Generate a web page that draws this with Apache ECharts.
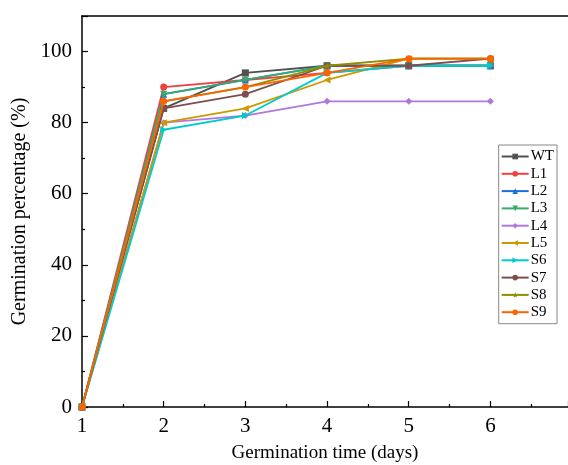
<!DOCTYPE html>
<html><head><meta charset="utf-8">
<script src="https://cdn.jsdelivr.net/npm/echarts@6/dist/echarts.min.js"></script>
<style>html,body{margin:0;padding:0;background:#fff}#c{width:568px;height:465px}</style>
</head><body><div id="c"></div>
<script>
const days = [1, 2, 3, 4, 5, 6];
const names = ['WT','L1','L2','L3','L4','L5','S6','S7','S8','S9'];
const WT = [0, 84, 94, 96, 96, 96];
const L1 = [0, 90, 92, 94, 96, 96];
const L2 = [0, 88, 92, 96, 96, 96];
const L3 = [0, 88, 92, 96, 96, 96];
const L4 = [0, 80, 82, 86, 86, 86];
const L5 = [0, 80, 84, 92, 98, 98];
const S6 = [0, 78, 82, 94, 96, 96];
const S7 = [0, 84, 88, 96, 96, 98];
const S8 = [0, 86, 90, 96, 98, 98];
const S9 = [0, 86, 90, 94, 98, 98];
const values = [WT, L1, L2, L3, L4, L5, S6, S7, S8, S9];
const colors = ['#515151','#F14040','#1A6FDF','#37AD6B','#B177DE','#CC9900','#00CBCC','#7D4E4E','#8E8E00','#FB6501'];
const symbols = ['rect','circle','triangle','path://M0,0 L10,0 L5,10 Z','diamond','path://M0,5 L10,0 L10,10 Z','path://M10,5 L0,0 L0,10 Z','circle','path://M5,0 L6.2,3.6 L10,3.6 L7,5.9 L8.1,9.5 L5,7.3 L1.9,9.5 L3,5.9 L0,3.6 L3.8,3.6 Z','circle'];
const font = '"Liberation Serif", "Times New Roman", serif';

const series = names.map((n, i) => ({
  name: n, type: 'line',
  data: days.map((d, j) => [d, values[i][j]]),
  symbol: symbols[i], symbolSize: 7,
  lineStyle: { width: 1.8, color: colors[i] },
  itemStyle: { color: colors[i] },
  z: 2 + i
}));

const tick = { show: true, inside: true, length: 6, lineStyle: { color: '#000', width: 1.2 } };
const minor = { show: true, splitNumber: 2, length: 3, lineStyle: { color: '#000', width: 1.2 } };

const chart = echarts.init(document.getElementById('c'), null, { renderer: 'canvas' });
chart.setOption({
  animation: false,
  grid: { left: 82, top: 16, right: 0, bottom: 58, show: false, containLabel: false, outerBoundsMode: 'none' },
  legend: {
    orient: 'vertical', right: 11, top: 145,
    itemWidth: 27, itemHeight: 7, itemGap: 2.3,
    padding: [4, 3, 4, 2],
    borderColor: '#888', borderWidth: 1,
    textStyle: { fontFamily: font, fontSize: 15, color: '#000', padding: [0, 0, 0, -3] },
    data: names
  },
  xAxis: [{
    type: 'value', min: 1, max: 6.95, interval: 1,
    name: 'Germination time (days)', nameLocation: 'middle', nameGap: 37,
    nameTextStyle: { fontFamily: font, fontSize: 19, color: '#000' },
    axisLine: { show: true, onZero: false, lineStyle: { color: '#000', width: 1.5 } },
    axisTick: tick, minorTick: minor,
    axisLabel: { fontFamily: font, fontSize: 21, color: '#000', margin: 9, showMaxLabel: false },
    splitLine: { show: false }
  }, {
    type: 'value', min: 1, max: 6.95, position: 'top',
    axisLine: { show: true, onZero: false, lineStyle: { color: '#000', width: 1.5 } },
    axisTick: { show: false }, axisLabel: { show: false }, splitLine: { show: false }
  }],
  yAxis: {
    type: 'value', min: 0, max: 110, interval: 20,
    name: 'Germination percentage (%)', nameLocation: 'middle', nameGap: 39,
    nameTextStyle: { fontFamily: font, fontSize: 20, color: '#000' },
    axisLine: { show: true, onZero: false, lineStyle: { color: '#000', width: 1.5 } },
    axisTick: tick, minorTick: minor,
    axisLabel: { fontFamily: font, fontSize: 21, color: '#000', margin: 10, showMaxLabel: false },
    splitLine: { show: false }
  },
  series: series
});
</script>
</body></html>
